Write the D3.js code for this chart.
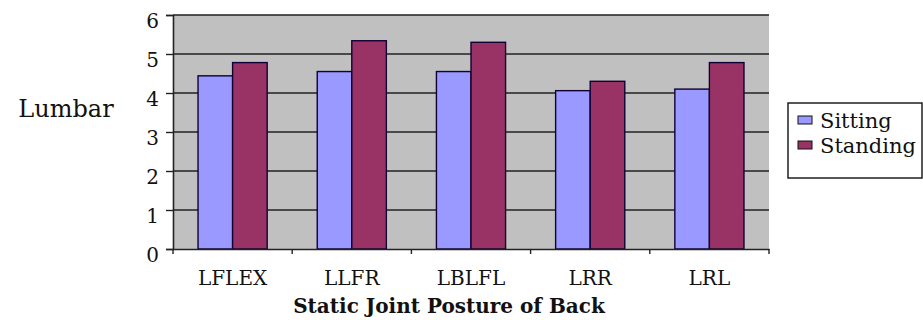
<!DOCTYPE html>
<meta charset="utf-8">
<script src="https://d3js.org/d3.v7.min.js"></script>
<style>
  body { margin: 0; background: #fff; }
  text { font-family: "DejaVu Serif", "Liberation Serif", serif; fill: #111; }
</style>
<div id="chart"></div>
<script>
// data
var postures = ["LFLEX", "LLFR", "LBLFL", "LRR", "LRL"];
var seriesNames = ["Sitting", "Standing"];
var sitting = [4.44, 4.55, 4.55, 4.06, 4.10];
var standing = [4.78, 5.34, 5.30, 4.30, 4.78];
var yTicks = [0, 1, 2, 3, 4, 5, 6];
var colors = ["#9999FF", "#993366"];

var W = 923, H = 320;
var margin = {top: 15, left: 173, right: 154, bottom: 71};
var width = W - margin.left - margin.right,
    height = H - margin.top - margin.bottom;

var svg = d3.select("#chart").append("svg")
    .attr("width", W).attr("height", H);

var g = svg.append("g")
    .attr("transform", "translate(" + margin.left + "," + margin.top + ")");

var x = d3.scaleBand().domain(postures).range([0, width]).paddingInner(0).paddingOuter(0);
var xs = d3.scaleBand().domain(seriesNames).range([x.bandwidth() * 0.21, x.bandwidth() * 0.79]);
var y = d3.scaleLinear().domain([0, 6]).range([height, 0]);

// plot background
g.append("rect").attr("width", width).attr("height", height).attr("fill", "#C0C0C0");

// grid lines
g.selectAll(".grid").data(yTicks.slice(1)).enter().append("line")
    .attr("x1", 0).attr("x2", width)
    .attr("y1", function(d) { return y(d); }).attr("y2", function(d) { return y(d); })
    .attr("stroke", "#222").attr("stroke-width", 1.4);

var rows = postures.map(function(p, i) { return {p: p, v: [sitting[i], standing[i]]}; });

var grp = g.selectAll(".grp").data(rows).enter().append("g")
    .attr("transform", function(d) { return "translate(" + x(d.p) + ",0)"; });

grp.selectAll("rect").data(function(d) { return d.v.map(function(v, k) { return {k: k, v: v}; }); })
  .enter().append("rect")
    .attr("x", function(d) { return xs(seriesNames[d.k]); })
    .attr("width", xs.bandwidth())
    .attr("y", function(d) { return y(d.v); })
    .attr("height", function(d) { return height - y(d.v); })
    .attr("fill", function(d) { return colors[d.k]; })
    .attr("stroke", "#110033").attr("stroke-width", 1.4);

// y axis
var yAxis = g.append("g")
    .call(d3.axisLeft(y).tickValues(yTicks).tickSize(7).tickPadding(7).tickFormat(d3.format("d")));
yAxis.select(".domain").attr("stroke", "#222").attr("stroke-width", 1.6);
yAxis.selectAll(".tick line").attr("stroke", "#222").attr("stroke-width", 1.4);
yAxis.selectAll("text").style("font-size", "20px").attr("dy", "0.62em").attr("font-family", null);

// x axis
var xAxis = g.append("g").attr("transform", "translate(0," + height + ")")
    .call(d3.axisBottom(x).tickSize(0).tickPadding(14));
xAxis.select(".domain").attr("stroke", "#222").attr("stroke-width", 1.6);
xAxis.selectAll("text").style("font-size", "20px").attr("y", 36).attr("dy", 0).attr("font-family", null);
g.append("g").selectAll("line").data(postures.concat(["end"])).enter().append("line")
    .attr("x1", function(d, i) { return i * x.bandwidth(); })
    .attr("x2", function(d, i) { return i * x.bandwidth(); })
    .attr("y1", height).attr("y2", height + 5)
    .attr("stroke", "#222").attr("stroke-width", 1.4);

// axis titles
svg.append("text").attr("x", 449).attr("y", 313).attr("text-anchor", "middle")
    .style("font-size", "20px").style("font-weight", "bold")
    .text("Static Joint Posture of Back");
svg.append("text").attr("x", 66).attr("y", 117).attr("text-anchor", "middle")
    .style("font-size", "24px").text("Lumbar");

// legend
var lg = svg.append("g").attr("transform", "translate(788,103)");
lg.append("rect").attr("width", 134).attr("height", 75)
    .attr("fill", "#fff").attr("stroke", "#111").attr("stroke-width", 1.4);
var li = lg.selectAll(".li").data(seriesNames).enter().append("g")
    .attr("transform", function(d, i) { return "translate(10," + (25 + i * 25) + ")"; });
li.append("rect").attr("x", 0).attr("y", -12).attr("width", 14).attr("height", 8)
    .attr("fill", function(d, i) { return colors[i]; }).attr("stroke", "#111");
li.append("text").attr("x", 22).attr("y", 0).style("font-size", "21px")
    .text(function(d) { return d; });
</script>
